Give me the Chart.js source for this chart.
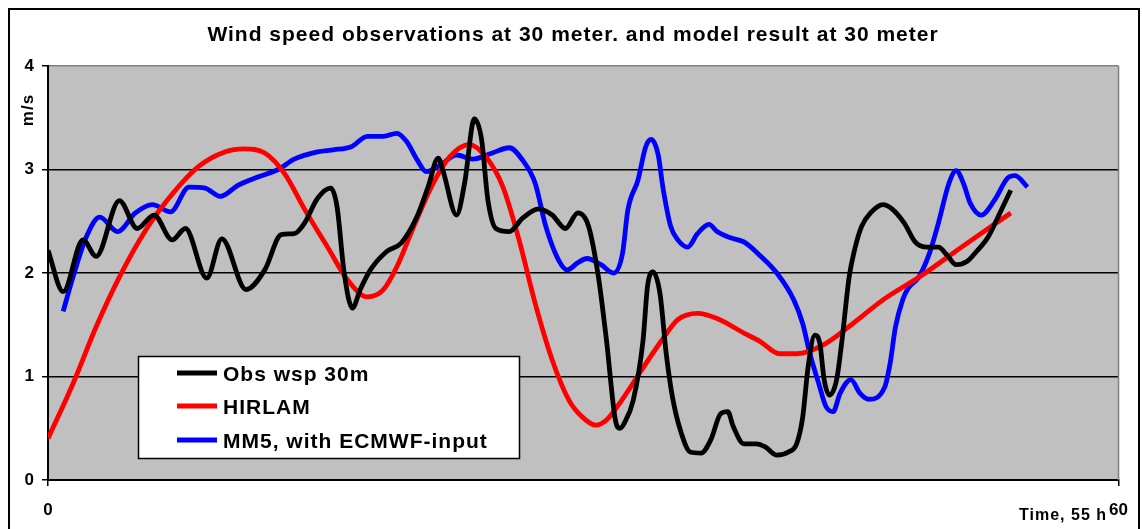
<!DOCTYPE html>
<html>
<head>
<meta charset="utf-8">
<script src="https://cdn.jsdelivr.net/npm/chart.js@4"></script>
<style>
  body { margin: 0; background: #fff; }
</style>
</head>
<body>
<canvas id="windChart" width="1142" height="529"></canvas>
<script>
// observed wind speed at 30 m (hours from start, m/s)
const obsHours = [0, 0.85, 1.96, 2.7, 4.0, 5.0, 5.94, 6.96, 7.7, 8.9, 9.74, 11.1, 12.15, 13.07, 13.8, 14.37, 15.1, 15.85, 16.2, 16.6, 17.06, 17.5, 18.07, 19.0, 19.8, 20.67, 21.3, 21.87, 22.15, 22.9, 23.35, 23.9, 24.3, 24.65, 25.1, 25.85, 26.6, 27.5, 28.26, 29.0, 29.7, 30.3, 30.85, 31.3, 31.8, 32.06, 32.3, 32.8, 33.35, 33.6, 33.9, 34.3, 34.65, 35.0, 35.5, 36.0, 36.6, 37.15, 37.7, 38.1, 38.4, 39.0, 39.7, 40.2, 40.85, 41.5, 41.96, 42.3, 42.6, 42.98, 43.26, 43.5, 43.8, 44.2, 44.5, 44.9, 45.2, 45.6, 46.1, 46.8, 47.3, 48.0, 48.6, 49.2, 49.9, 50.4, 50.9, 51.5, 52.05, 52.7, 53.35, 53.96];
const obsWsp = [2.22, 1.82, 2.32, 2.16, 2.70, 2.43, 2.56, 2.32, 2.43, 1.95, 2.33, 1.84, 2.03, 2.37, 2.38, 2.48, 2.72, 2.82, 2.64, 2.0, 1.66, 1.84, 2.03, 2.21, 2.29, 2.54, 2.83, 3.11, 2.98, 2.56, 2.87, 3.49, 3.29, 2.71, 2.43, 2.40, 2.53, 2.62, 2.56, 2.43, 2.58, 2.45, 1.96, 1.35, 0.58, 0.50, 0.55, 0.77, 1.35, 1.87, 2.01, 1.80, 1.22, 0.80, 0.45, 0.27, 0.26, 0.39, 0.64, 0.66, 0.52, 0.35, 0.35, 0.32, 0.24, 0.27, 0.35, 0.61, 1.09, 1.40, 1.32, 0.97, 0.82, 0.97, 1.35, 1.96, 2.22, 2.45, 2.58, 2.66, 2.62, 2.48, 2.30, 2.25, 2.25, 2.17, 2.08, 2.11, 2.21, 2.35, 2.58, 2.80];

// HIRLAM model
const hirlamHours = [0, 1.4, 2.7, 4.0, 5.5, 7.0, 8.44, 9.9, 11.0, 12.15, 13.26, 14.4, 15.67, 16.8, 17.9, 18.8, 19.55, 20.5, 21.6, 22.5, 23.6, 24.55, 25.5, 26.4, 27.3, 28.26, 29.2, 30.0, 30.7, 31.3, 32.15, 33.26, 34.4, 35.3, 36.4, 37.5, 39.0, 39.9, 41.0, 42.0, 43.4, 45.1, 46.8, 49.0, 51.2, 53.96];
const hirlamWsp = [0.40, 0.93, 1.48, 1.96, 2.42, 2.77, 3.03, 3.17, 3.20, 3.16, 2.96, 2.61, 2.25, 1.93, 1.77, 1.84, 2.06, 2.45, 2.87, 3.12, 3.24, 3.12, 2.83, 2.32, 1.71, 1.16, 0.77, 0.60, 0.53, 0.58, 0.77, 1.06, 1.35, 1.55, 1.61, 1.56, 1.42, 1.34, 1.22, 1.22, 1.30, 1.51, 1.74, 1.98, 2.25, 2.58];

// MM5 model, ECMWF boundaries
const mm5Hours = [0.85, 1.4, 2.15, 2.9, 3.9, 4.9, 5.85, 6.87, 7.9, 8.8, 9.65, 10.67, 11.8, 12.9, 13.8, 15.1, 16.0, 17.0, 17.9, 18.8, 19.55, 20.1, 20.7, 21.2, 21.96, 22.9, 23.8, 24.9, 25.85, 26.6, 27.3, 27.9, 28.6, 29.1, 29.7, 30.2, 31.0, 31.7, 32.2, 32.5, 33.07, 33.5, 33.8, 34.2, 34.46, 34.9, 35.3, 35.85, 36.4, 37.05, 37.5, 38.26, 39.0, 39.9, 40.85, 41.8, 42.3, 42.7, 43.2, 43.6, 44.0, 44.4, 45.0, 45.5, 46.0, 46.9, 47.2, 47.5, 47.9, 48.2, 48.8, 49.4, 49.9, 50.5, 50.9, 51.3, 51.7, 52.3, 53.07, 53.8, 54.2, 54.9];
const mm5Wsp = [1.63, 1.96, 2.35, 2.54, 2.40, 2.58, 2.66, 2.59, 2.83, 2.82, 2.74, 2.85, 2.93, 3.00, 3.10, 3.17, 3.19, 3.22, 3.32, 3.32, 3.35, 3.27, 3.09, 2.98, 3.04, 3.14, 3.10, 3.16, 3.21, 3.09, 2.87, 2.45, 2.13, 2.03, 2.10, 2.14, 2.08, 2.00, 2.19, 2.61, 2.90, 3.22, 3.29, 3.14, 2.83, 2.45, 2.32, 2.25, 2.38, 2.47, 2.40, 2.34, 2.30, 2.17, 2.00, 1.74, 1.51, 1.22, 0.93, 0.71, 0.66, 0.84, 0.97, 0.84, 0.78, 0.90, 1.13, 1.48, 1.74, 1.85, 1.96, 2.19, 2.48, 2.87, 2.99, 2.87, 2.67, 2.56, 2.71, 2.92, 2.94, 2.83];

const seriesNames = ['Obs wsp 30m', 'HIRLAM', 'MM5, with ECMWF-input'];
const seriesColors = ['#000000', '#ff0000', '#0000ff'];
const xTicks = [0, 60];
const yTicks = [0, 1, 2, 3, 4];

const chartTitle = 'Wind speed observations at 30 meter. and model result at 30 meter';
const xTitle = 'Time, 55 h';
const yTitle = 'm/s';
const FONT = "'Liberation Sans', Arial, sans-serif";

function toPoints(xs, ys) {
    return xs.map((x, i) => ({ x: x, y: ys[i] }));
}

function lineSet(i, xs, ys) {
    return {
        label: seriesNames[i],
        data: toPoints(xs, ys),
        borderColor: seriesColors[i],
        backgroundColor: seriesColors[i],
        borderWidth: 4.8,
        borderJoinStyle: 'round',
        pointRadius: 0,
        cubicInterpolationMode: 'monotone',
        fill: false
    };
}

// plot background, outer frame, legend box and the free text
const decor = {
    id: 'decor',
    beforeDraw(chart) {
        const { ctx, chartArea: a } = chart;
        ctx.save();
        ctx.fillStyle = '#fff';
        ctx.fillRect(0, 0, chart.width, chart.height);
        ctx.fillStyle = '#c0c0c0';
        ctx.fillRect(a.left, a.top, a.right - a.left, a.bottom - a.top);
        ctx.strokeStyle = '#000';
        ctx.lineWidth = 2;
        ctx.strokeRect(9, 9, 1130, 530);
        ctx.restore();
    },
    beforeDatasetsDraw(chart) {
        const { ctx, chartArea: a } = chart;
        ctx.save();
        ctx.strokeStyle = '#808080';
        ctx.lineWidth = 1.5;
        ctx.beginPath();
        ctx.moveTo(a.right, a.top);
        ctx.lineTo(a.right, a.bottom);
        ctx.stroke();
        ctx.restore();
    },
    afterDatasetsDraw(chart) {
        const ctx = chart.ctx;
        ctx.save();
        ctx.fillStyle = '#fff';
        ctx.fillRect(138, 356, 381, 102);
        ctx.strokeStyle = '#000';
        ctx.lineWidth = 1.5;
        ctx.strokeRect(138.5, 356.5, 381, 102);
        const rows = [373, 406, 440];
        ctx.font = 'bold 21px ' + FONT;
        ctx.letterSpacing = '1px';
        ctx.textBaseline = 'alphabetic';
        chart.data.datasets.forEach((ds, i) => {
            ctx.strokeStyle = ds.borderColor;
            ctx.lineWidth = 5;
            ctx.beginPath();
            ctx.moveTo(177, rows[i]);
            ctx.lineTo(217, rows[i]);
            ctx.stroke();
            ctx.fillStyle = '#000';
            ctx.fillText(ds.label, 223, rows[i] + 8);
        });
        ctx.restore();
    },
    afterDraw(chart) {
        const ctx = chart.ctx;
        ctx.save();
        ctx.fillStyle = '#000';
        ctx.letterSpacing = '1px';
        ctx.font = 'bold 21px ' + FONT;
        ctx.textAlign = 'center';
        ctx.fillText(chartTitle, 573, 41);

        ctx.font = 'bold 16px ' + FONT;
        ctx.textAlign = 'right';
        ctx.fillText(xTitle, 1107, 520);

        ctx.translate(33, 110);
        ctx.rotate(-Math.PI / 2);
        ctx.textAlign = 'center';
        ctx.font = 'bold 17px ' + FONT;
        ctx.fillText(yTitle, 0, 0);
        ctx.restore();
    }
};

const ctx = document.getElementById('windChart');

new Chart(ctx, {
    type: 'line',
    data: {
        datasets: [
            lineSet(0, obsHours, obsWsp),
            lineSet(1, hirlamHours, hirlamWsp),
            lineSet(2, mm5Hours, mm5Wsp)
        ]
    },
    options: {
        responsive: false,
        animation: false,
        layout: { padding: { top: 66, right: 14, left: 0, bottom: 0 } },
        scales: {
            x: {
                type: 'linear',
                min: xTicks[0],
                max: xTicks[xTicks.length - 1],
                afterBuildTicks: (scale) => { scale.ticks = xTicks.map(v => ({ value: v })); },
                afterFit: (scale) => { scale.height = 49; },
                grid: { drawOnChartArea: false, tickLength: 6, color: '#000', lineWidth: 1.5 },
                border: { color: '#000', width: 2 },
                ticks: {
                    color: '#000',
                    padding: 14,
                    maxRotation: 0,
                    font: { family: FONT, size: 17, weight: 'bold' }
                }
            },
            y: {
                min: yTicks[0],
                max: yTicks[yTicks.length - 1],
                afterBuildTicks: (scale) => { scale.ticks = yTicks.map(v => ({ value: v })); },
                afterFit: (scale) => { scale.width = 48; },
                grid: {
                    tickLength: 6,
                    lineWidth: 1.5,
                    color: (c) => (c.tick && c.tick.value === 4 ? '#808080' : '#000'),
                    tickColor: '#000'
                },
                border: { color: '#000', width: 2 },
                ticks: {
                    color: '#000',
                    padding: 8,
                    font: { family: FONT, size: 17, weight: 'bold' }
                }
            }
        },
        plugins: {
            legend: { display: false },
            title: { display: false },
            tooltip: { enabled: false }
        }
    },
    plugins: [decor]
});
</script>
</body>
</html>
